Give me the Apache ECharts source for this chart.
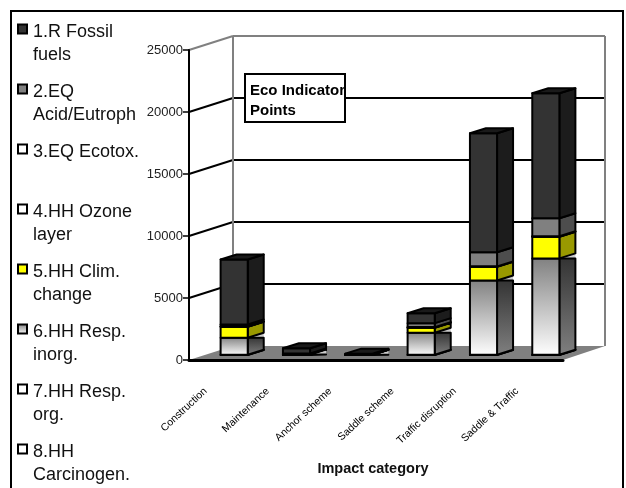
<!DOCTYPE html>
<html><head><meta charset="utf-8">
<style>html,body{margin:0;padding:0;background:#fff}#c{width:626px;height:488px}</style>
<script src="https://cdn.jsdelivr.net/npm/echarts@6/dist/echarts.min.js"></script>
</head><body><div id="c"></div>
<script>
const categories = ['Construction','Maintenance','Anchor scheme','Saddle scheme','Traffic disruption','Saddle & Traffic'];
const yTicks = [0,5000,10000,15000,20000,25000];
// values listed per category
const carcinogen = [10,5,2,10,10,10];
const respOrg    = [10,5,2,10,10,10];
const respInorg  = [1370,30,10,1770,5990,7770];
const climate    = [890,30,10,400,1100,1750];
const ozone      = [10,5,2,30,20,20];
const ecotox     = [10,5,2,30,20,20];
const acid       = [160,40,10,320,1130,1450];
const fossil     = [5240,420,70,800,9600,10080];

const names = {
  fossil:'1.R Fossil\nfuels', acid:'2.EQ\nAcid/Eutroph', ecotox:'3.EQ Ecotox.\n ', ozone:'4.HH Ozone\nlayer',
  climate:'5.HH Clim.\nchange', respInorg:'6.HH Resp.\ninorg.', respOrg:'7.HH Resp.\norg.', carcinogen:'8.HH\nCarcinogen.'
};
const gradFront = {type:'linear',x:0,y:0,x2:0,y2:1,colorStops:[{offset:0,color:'#808080'},{offset:1,color:'#ffffff'}]};
const gradSide  = {type:'linear',x:0,y:0,x2:0,y2:1,colorStops:[{offset:0,color:'#333333'},{offset:1,color:'#808080'}]};
const stackOrder = [
  {key:'carcinogen',vals:carcinogen,front:'#ffffff',side:'#c0c0c0',top:'#e0e0e0'},
  {key:'respOrg',vals:respOrg,front:'#ffffff',side:'#c0c0c0',top:'#e0e0e0'},
  {key:'respInorg',vals:respInorg,front:gradFront,side:gradSide,top:'#c8c8c8',sliver:true},
  {key:'climate',vals:climate,front:'#ffff00',side:'#999900',top:'#cccc00'},
  {key:'ozone',vals:ozone,front:'#ffffff',side:'#c0c0c0',top:'#e0e0e0'},
  {key:'ecotox',vals:ecotox,front:'#ffffff',side:'#c0c0c0',top:'#e0e0e0'},
  {key:'acid',vals:acid,front:'#808080',side:'#4d4d4d',top:'#666666'},
  {key:'fossil',vals:fossil,front:'#333333',side:'#1c1c1c',top:'#1a1a1a'}
];
const WALL_DX=44, WALL_DY=14, BAR_OFF_X=14, BAR_OFF_Y=5, DEPTH_X=16, DEPTH_Y=5, BAR_RATIO=0.435, EDGE=2;
const running = categories.map(()=>0);

function poly(points,fill,stroke,lw){
  return {type:'polygon',shape:{points},style:{fill,stroke:stroke||null,lineWidth:lw||0,lineJoin:'round'},silent:true};
}
function line(x1,y1,x2,y2,stroke,lw){
  return {type:'line',shape:{x1,y1,x2,y2},style:{stroke,lineWidth:lw},silent:true};
}
function segmentSeries(s){
  const data = s.vals.map((v,i)=>{const start=running[i];running[i]+=v;return [i,start,running[i]];});
  return {
    name:names[s.key], type:'custom', z:5, silent:true, itemStyle:{color:s.front}, data,
    encode:{x:0,y:[1,2]},
    renderItem(params,api){
      const c=api.value(0), a=api.coord([c,api.value(1)]), b=api.coord([c,api.value(2)]);
      const w=api.size([1,0])[0]*BAR_RATIO;
      const xl=a[0]+BAR_OFF_X-w/2, xr=xl+w, xb=xr+DEPTH_X;
      const y0=a[1]-BAR_OFF_Y, y1=b[1]-BAR_OFF_Y;
      const kids=[];
      if(s.sliver){
        kids.push(poly([[xr,y1],[xb,y1-DEPTH_Y],[xb,y1]],'#cccccc'));
        const low=Math.max(y1,y0-DEPTH_Y);
        kids.push(poly([[xr,y0],[xb,low],[xb,y1],[xr,y1]],s.side,'#000',EDGE));
        kids.push(line(xr,y1,xb,y1,'#000',0.5));
      } else {
        kids.push(poly([[xr,y0],[xb,y0-DEPTH_Y],[xb,y1-DEPTH_Y],[xr,y1]],s.side,'#000',EDGE));
      }
      kids.push(poly([[xl,y0],[xr,y0],[xr,y1],[xl,y1]],s.front,'#000',EDGE));
      if(s.key==='fossil') kids.push(poly([[xl,y1],[xr,y1],[xb,y1-DEPTH_Y],[xl+DEPTH_X,y1-DEPTH_Y]],s.top,'#000',EDGE));
      return {type:'group',children:kids};
    }
  };
}
const wallSeries = {
  type:'custom', name:'walls', z:1, silent:true, data:[[0,0]], encode:{x:0,y:1},
  renderItem(params,api){
    const cs=params.coordSys, xa=cs.x, xr=cs.x+cs.width;
    const kids=[];
    const o=api.coord([0,0])[1], t=api.coord([0,yTicks[yTicks.length-1]])[1];
    kids.push(poly([[xa,o],[xa+WALL_DX,o-WALL_DY],[xr+WALL_DX-2,o-WALL_DY],[xr,o]],'#808080'));
    yTicks.forEach((v,i)=>{
      if(i===0||i===yTicks.length-1) return;
      const y=api.coord([0,v])[1];
      kids.push(line(xa,y,xa+WALL_DX,y-WALL_DY,'#000',2));
      kids.push(line(xa+WALL_DX,y-WALL_DY,xr+WALL_DX-2,y-WALL_DY,'#000',2));
    });
    kids.push(line(xa,t,xa+WALL_DX,t-WALL_DY,'#808080',2));
    kids.push(line(xa+WALL_DX,t-WALL_DY,xa+WALL_DX,o-WALL_DY,'#808080',2));
    kids.push(line(xa+WALL_DX,t-WALL_DY,xr+WALL_DX-2,t-WALL_DY,'#808080',2));
    kids.push(line(xr+WALL_DX-2,t-WALL_DY,xr+WALL_DX-2,o-WALL_DY,'#808080',2));
    return {type:'group',children:kids};
  }
};
const chart = echarts.init(document.getElementById('c'),null,{renderer:'canvas'});
const FONT='"Liberation Sans",Arial,sans-serif';
chart.setOption({
  animation:false,
  backgroundColor:'#fff',
  grid:{left:189,top:50,width:374,height:310},
  title:{
    text:'Eco Indicator\nPoints',left:245,top:74,padding:[7,0,1,5],
    backgroundColor:'#fff',borderColor:'#000',borderWidth:2,
    textStyle:{fontFamily:FONT,fontSize:15,fontWeight:'bold',color:'#000',lineHeight:20}
  },
  legend:{
    orient:'vertical',left:17,top:-9.25,height:2000,padding:0,itemGap:-16.5,itemWidth:9,itemHeight:9,icon:'rect',selectedMode:false,
    itemStyle:{borderColor:'#000',borderWidth:2},
    data:['fossil','acid','ecotox','ozone','climate','respInorg','respOrg','carcinogen'].map(k=>names[k]),
    formatter:n=>'{s| }\n'+n.split('\n').map(t=>'{a|'+t+'}').join('\n'),
    textStyle:{fontFamily:FONT,fontSize:18,color:'#111',padding:[0,0,0,1],
      rich:{
        s:{fontFamily:FONT,fontSize:18,lineHeight:29.5,height:29.5},
        a:{fontFamily:FONT,fontSize:18,color:'#111',lineHeight:23.5,height:23.5}
      }}
  },
  xAxis:{
    type:'category',data:categories,
    axisLine:{lineStyle:{color:'#000',width:3}},
    axisTick:{length:5,lineStyle:{color:'#000',width:1.5}},
    axisLabel:{rotate:43,interval:0,margin:16,fontFamily:FONT,fontSize:10.5,color:'#000',padding:[0,20,0,0]},
    name:'Impact category',nameLocation:'middle',nameGap:101,
    nameTextStyle:{fontFamily:FONT,fontSize:14.5,fontWeight:'bold',color:'#111',padding:[0,6,0,0]},
    z:3
  },
  yAxis:{
    type:'value',min:0,max:25000,interval:5000,
    axisLine:{show:true,lineStyle:{color:'#000',width:2}},
    axisTick:{show:true,length:6,lineStyle:{color:'#000',width:1.5}},
    axisLabel:{margin:6,fontFamily:FONT,fontSize:13,color:'#222',formatter:v=>String(v)},
    splitLine:{show:false},
    z:3
  },
  graphic:[{type:'polyline',shape:{points:[[11,490],[11,11],[623,11],[623,490]]},style:{stroke:'#000',lineWidth:2,fill:null},silent:true}],
  series:[wallSeries].concat(stackOrder.map(segmentSeries))
});
</script></body></html>
